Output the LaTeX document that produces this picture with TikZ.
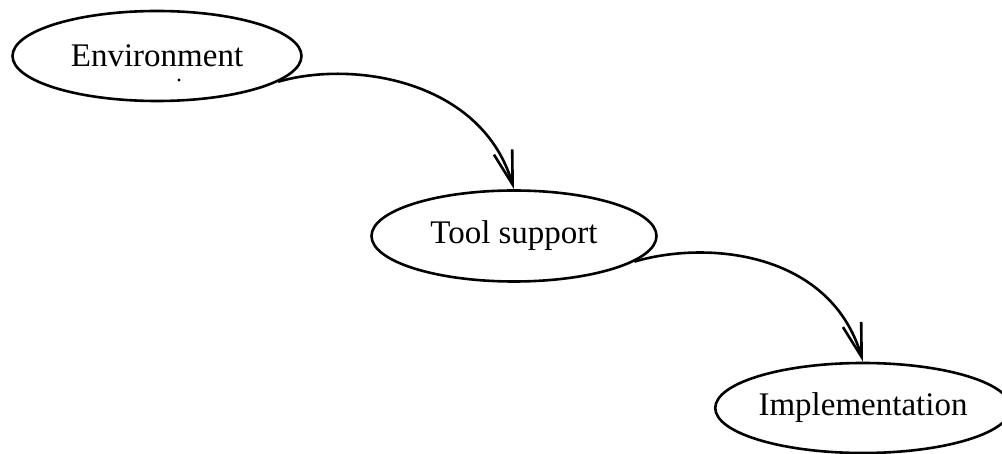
\documentclass[tikz,border=0pt]{standalone}
\usepackage{fontspec}
\setmainfont{Liberation Serif}
\usetikzlibrary{shapes.geometric,arrows.meta}
\begin{document}
\begin{tikzpicture}[x=1pt,y=-1pt,
  stage/.style={ellipse,draw,line width=2.6pt,inner sep=0pt,
    font=\fontsize{33}{38}\selectfont},
  flow/.style={line width=2.6pt,-{Straight Barb[length=34pt,width=19pt,line width=2.6pt]}}]
\useasboundingbox (0,0) rectangle (1002,454);
\node[stage,minimum width=289pt,minimum height=90pt] (env) at (157,56) {Environment};
\node[stage,minimum width=285pt,minimum height=91pt] (tool) at (514,236) {Tool support};
\node[stage,minimum width=278pt,minimum height=90pt] (impl) at (863,408) {Implementation};
\fill (179,80) circle (1.6pt);
\draw[flow] (env.-12) .. controls +(75,-22) and +(-32,-109) .. (tool.north);
\draw[flow] (tool.-12) .. controls +(75,-22) and +(-32,-109) .. (impl.north);
\end{tikzpicture}
\end{document}
